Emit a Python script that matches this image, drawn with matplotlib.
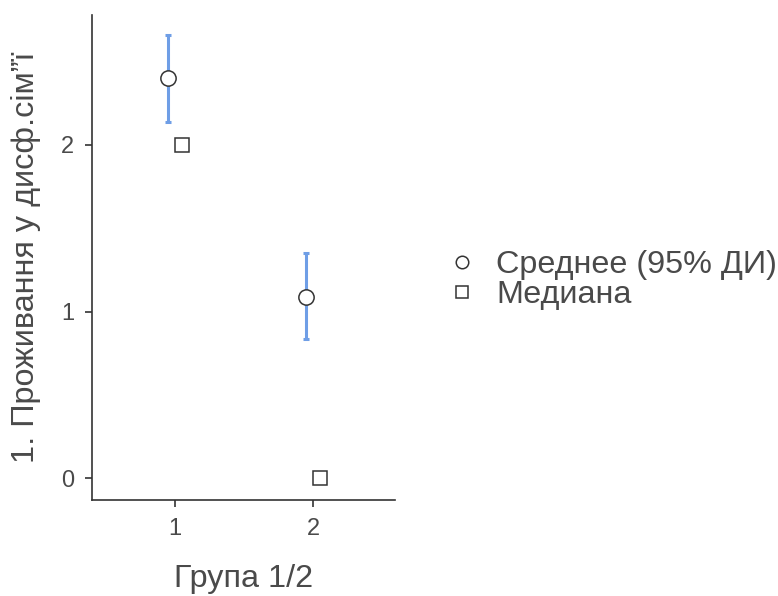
import numpy as np
from matplotlib import pyplot as plt
from matplotlib.lines import Line2D

groups = [1, 2]
means = [2.40, 1.09]
ci_low = [2.14, 0.835]
ci_high = [2.66, 1.35]
medians = [2, 0]

x_label = "Група 1/2"
y_label = "1. Проживання у дисф.сім\u201dї"
legend_labels = ["Среднее (95% ДИ)", "Медиана"]

plt.rcParams['font.family'] = ['Liberation Sans', 'DejaVu Sans']
grey = '#333333'
text_grey = '#4a4a4a'

fig = plt.figure(figsize=(7.78, 5.96), dpi=100)
ax = fig.add_axes([0.1183, 0.161, 0.3894, 0.814])

x = np.array(groups, dtype=float)
m = np.array(means)
err = np.vstack([m - np.array(ci_low), np.array(ci_high) - m])

ax.errorbar(x - 0.05, m, yerr=err, fmt='none', ecolor='#6f9ee6',
            elinewidth=2.2, capsize=2, capthick=2.2, zorder=2)
ax.plot(x - 0.05, m, 'o', ms=11, mfc='white', mec=grey, mew=1.1, zorder=3)
ax.plot(x + 0.05, medians, 's', ms=9.5, mfc='white', mec=grey, mew=1.1, zorder=3)

ax.set_xlim(0.4, 2.59)
ax.set_ylim(-0.13, 2.78)
ax.set_xticks(groups)
ax.set_yticks([0, 1, 2])

for s in ['top', 'right']:
    ax.spines[s].set_visible(False)
for s in ['left', 'bottom']:
    ax.spines[s].set_color(grey)
    ax.spines[s].set_linewidth(1.2)
ax.tick_params(colors=grey, labelsize=17, length=5, width=1.2, pad=8)
for t in ax.get_xticklabels() + ax.get_yticklabels():
    t.set_color(text_grey)

ax.set_xlabel(x_label, fontsize=23.3, color=text_grey, labelpad=17)
ax.set_ylabel(y_label, fontsize=23.3, color=text_grey, labelpad=14)

handles = [
    Line2D([], [], ls='none', marker='o', ms=9, mfc='white', mec=grey, mew=1.1),
    Line2D([], [], ls='none', marker='s', ms=8, mfc='white', mec=grey, mew=1.1),
]
fig.legend(handles, legend_labels, loc='center left', bbox_to_anchor=(0.573, 0.53),
           frameon=False, fontsize=23.3, labelcolor=text_grey, handletextpad=0.56,
           labelspacing=0.0, handlelength=1.0, borderpad=0, borderaxespad=0)

fig.savefig('out.png', dpi=100, facecolor='white')
